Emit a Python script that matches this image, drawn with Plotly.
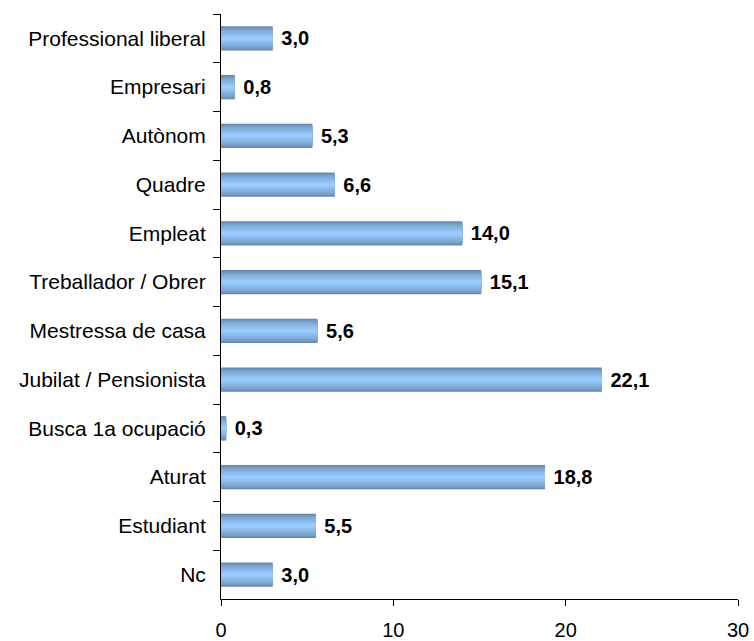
import plotly.graph_objects as go

categories = ["Professional liberal", "Empresari", "Autònom", "Quadre", "Empleat",
              "Treballador / Obrer", "Mestressa de casa", "Jubilat / Pensionista",
              "Busca 1a ocupació", "Aturat", "Estudiant", "Nc"]
values = [3.0, 0.8, 5.3, 6.6, 14.0, 15.1, 5.6, 22.1, 0.3, 18.8, 5.5, 3.0]
x_ticks = [0, 10, 20, 30]

# Layered bars of shrinking width fake a cylinder-like vertical gradient
dark = (102, 136, 172)
light = (153, 204, 255)
n_layers = 10
full_width = 0.5

fig = go.Figure()
for i in range(n_layers):
    t = (i / (n_layers - 1)) ** 0.7
    col = tuple(round(dark[k] + (light[k] - dark[k]) * t) for k in range(3))
    w = full_width * (1 - i / n_layers)
    first = i == 0
    fig.add_trace(go.Bar(
        y=categories, x=values, orientation="h", width=w,
        marker=dict(color="rgb(%d,%d,%d)" % col, line=dict(width=0)),
        texttemplate="\u00a0%{x:.1f}" if first else None,
        textposition="outside" if first else "none",
        textfont=dict(family="Liberation Sans, Arial", size=20, color="black", weight="bold"),
        cliponaxis=False, hoverinfo="skip", showlegend=False,
    ))

fig.update_layout(
    barmode="overlay",
    width=754, height=641,
    margin=dict(l=221, r=16, t=14, b=42, autoexpand=False),
    paper_bgcolor="white", plot_bgcolor="white",
    separators=",.",
    font=dict(family="Liberation Sans, Arial", size=20, color="black"),
)
fig.update_xaxes(
    range=[0, 30], tickvals=x_ticks, showgrid=False, zeroline=False,
    showline=True, linecolor="black", linewidth=1,
    ticks="outside", ticklen=6, tickcolor="black",
    tickfont=dict(size=20), ticklabelstandoff=7, automargin=False,
)
fig.update_yaxes(
    categoryorder="array", categoryarray=categories, autorange="reversed",
    showgrid=False, zeroline=False, showline=True, linecolor="black", linewidth=1,
    ticks="outside", tickson="boundaries", ticklen=7, tickcolor="black",
    tickfont=dict(size=21), ticklabelstandoff=10, automargin=False,
)

fig.write_html("out.html")
